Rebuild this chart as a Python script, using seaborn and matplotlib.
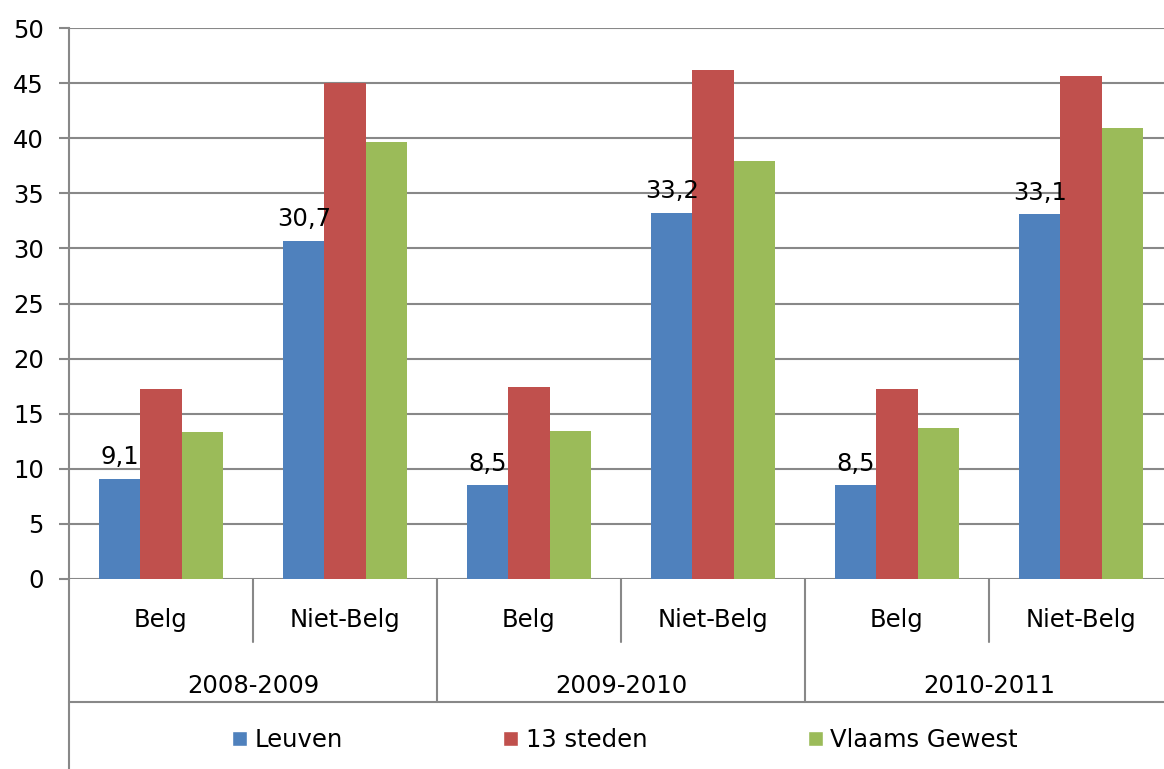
import pandas as pd
import matplotlib.pyplot as plt
import matplotlib.transforms as mtransforms
from matplotlib.patches import Patch
import seaborn as sns

# data
jaren = ["2008-2009", "2009-2010", "2010-2011"]
groepen = ["Belg", "Niet-Belg"]
reeksen = ["Leuven", "13 steden", "Vlaams Gewest"]
leuven = [9.1, 30.7, 8.5, 33.2, 8.5, 33.1]
steden = [17.2, 45.0, 17.4, 46.2, 17.2, 45.6]
vlaams = [13.3, 39.7, 13.4, 37.9, 13.7, 40.9]
kleuren = ["#4F81BD", "#C0504D", "#9BBB59"]

cats = [j + " " + g for j in jaren for g in groepen]
rows = []
for naam, vals in zip(reeksen, [leuven, steden, vlaams]):
    for c, v in zip(cats, vals):
        rows.append({"cat": c, "reeks": naam, "waarde": v})
df = pd.DataFrame(rows)

sns.set_style("white")
plt.rcParams["font.family"] = ["DejaVu Sans"]
plt.rcParams["text.color"] = "black"
plt.rcParams["ytick.labelcolor"] = "black"

fs = 17.5
W, H = 1164, 769
fig = plt.figure(figsize=(W / 100, H / 100), dpi=100)
ax = fig.add_axes([69 / W, 190 / H, 1104 / W, 551 / H])

sns.barplot(data=df, x="cat", y="waarde", hue="reeks", order=cats,
            hue_order=reeksen, palette=kleuren, width=0.67, gap=0,
            saturation=1, edgecolor="none", legend=False, ax=ax)

grijs = "#888888"
ax.set_ylim(0, 50)
ax.set_xlim(-0.5, 5.5)
ax.set_yticks(range(0, 51, 5))
ax.yaxis.grid(True, color=grijs, linewidth=1.5)
ax.set_axisbelow(True)
ax.tick_params(axis="y", labelsize=fs, labelcolor="black", length=7, width=1.5,
               color=grijs, pad=11, left=True)
ax.tick_params(axis="x", bottom=False, labelbottom=False)
ax.set_xlabel("")
ax.set_ylabel("")
for s in ["top", "right", "bottom"]:
    ax.spines[s].set_visible(False)
ax.spines["left"].set_color(grijs)
ax.spines["left"].set_linewidth(1.5)

# labels only on Leuven
ax.bar_label(ax.containers[0], labels=[str(v).replace(".", ",") for v in leuven],
             padding=7, fontsize=fs, color="black")

# category table under the axis
tr = mtransforms.blended_transform_factory(ax.transData, fig.transFigure)
def fy(p):
    return (H - p) / H

for i, c in enumerate(cats):
    ax.text(i, fy(620), groepen[i % 2], transform=tr, ha="center", va="center", fontsize=fs)
for k, j in enumerate(jaren):
    ax.text(2 * k + 0.5, fy(686), j, transform=tr, ha="center", va="center", fontsize=fs)

for x in [0.5, 2.5, 4.5]:
    ax.plot([x, x], [fy(579), fy(642)], transform=tr, color=grijs, lw=1.5, clip_on=False)
for x in [1.5, 3.5]:
    ax.plot([x, x], [fy(579), fy(702)], transform=tr, color=grijs, lw=1.5, clip_on=False)
ax.plot([-0.5, -0.5], [fy(579), 0], transform=tr, color=grijs, lw=1.5, clip_on=False)
ax.plot([-0.5, 5.5], [fy(702), fy(702)], transform=tr, color=grijs, lw=1.5, clip_on=False)

handles = [Patch(facecolor=k, label=n) for k, n in zip(kleuren, reeksen)]
fig.legend(handles=handles, loc="center", bbox_to_anchor=(625 / W, fy(740)), ncol=3,
           frameon=False, fontsize=fs, handlelength=0.62, handleheight=0.62,
           handletextpad=0.3, columnspacing=6.6)

fig.savefig("out.png", dpi=100)
